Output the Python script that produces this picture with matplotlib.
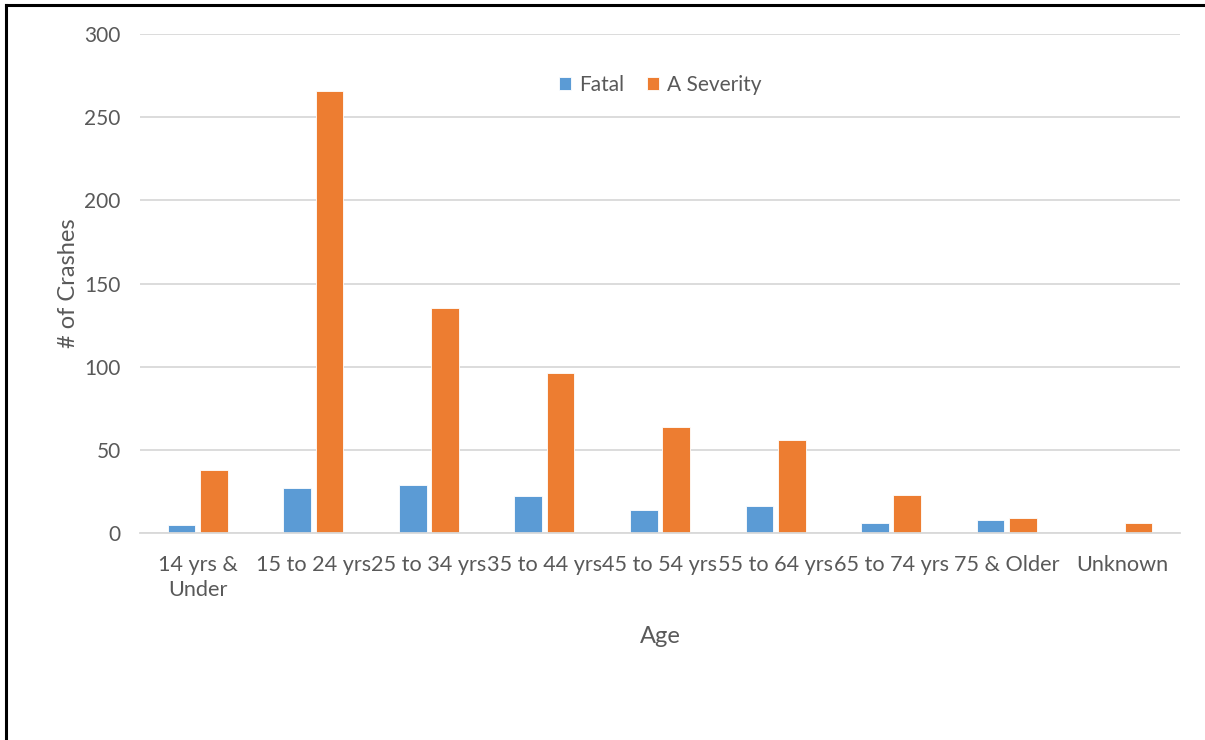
import numpy as np
import matplotlib.pyplot as plt
from matplotlib.lines import Line2D

plt.rcParams['font.family'] = ['Lato', 'DejaVu Sans']

ages = ["14 yrs &\nUnder", "15 to 24 yrs", "25 to 34 yrs", "35 to 44 yrs",
        "45 to 54 yrs", "55 to 64 yrs", "65 to 74 yrs", "75 & Older", "Unknown"]
fatal = [5, 27, 29, 22, 14, 16, 6, 8, 0]
a_severity = [38, 266, 135, 96, 64, 56, 23, 9, 6]

text_color = "#595959"
blue = "#5b9bd5"
orange = "#ed7d31"

fig = plt.figure(figsize=(12.05, 7.4), dpi=100)
ax = fig.add_axes([140 / 1205, 207 / 740, 1040 / 1205, 499 / 740])

x = np.arange(len(ages))
w = 0.24
ax.bar(x - w / 2 - 0.02, fatal, w, color=blue, label="Fatal", edgecolor="white", linewidth=0.6)
ax.bar(x + w / 2 + 0.02, a_severity, w, color=orange, label="A Severity", edgecolor="white", linewidth=0.6)

ax.set_xlim(-0.5, len(ages) - 0.5)
ax.set_ylim(0, 300)
ax.set_yticks(range(0, 301, 50))
ax.yaxis.grid(True, color="#d9d9d9", linewidth=1.3)
ax.set_axisbelow(True)
for s in ["top", "right", "left"]:
    ax.spines[s].set_visible(False)
ax.spines["bottom"].set_color("#d9d9d9")
ax.spines["bottom"].set_linewidth(1.3)

ax.set_xticks(x)
ax.set_xticklabels(ages, fontsize=15.6, color=text_color, linespacing=1.3)
ax.tick_params(axis="x", length=0, pad=16)
ax.tick_params(axis="y", length=0, pad=14, labelsize=15, labelcolor=text_color)

ax.set_xlabel("Age", fontsize=17, color=text_color, labelpad=19)
ax.set_ylabel("# of Crashes", fontsize=17, color=text_color, labelpad=4)

ax.legend(loc="upper center", bbox_to_anchor=(0.5, 0.955), ncol=2, frameon=False,
          fontsize=15, labelcolor=text_color, handlelength=0.6, handleheight=0.6,
          handletextpad=0.35, columnspacing=1.1)

# frame lines along the top and left edge
fig.add_artist(Line2D([6 / 1205, 1], [1 - 5 / 740, 1 - 5 / 740], color="black", linewidth=2.2))
fig.add_artist(Line2D([6 / 1205, 6 / 1205], [0, 1 - 5 / 740], color="black", linewidth=2.2))

fig.savefig("out.png", dpi=100)
